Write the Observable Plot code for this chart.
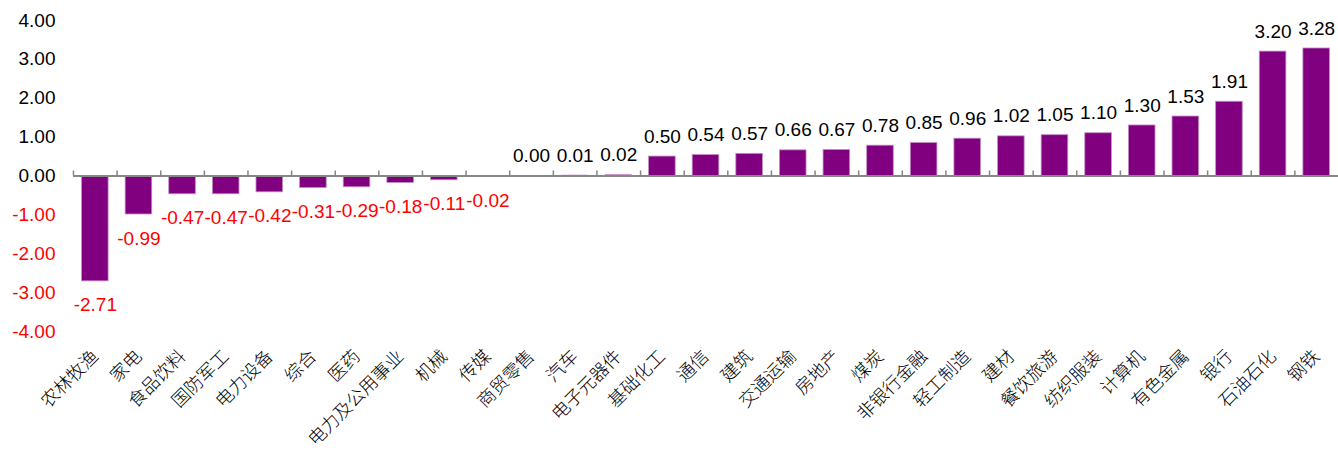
<!DOCTYPE html>
<html>
<head>
<meta charset="utf-8">
<script src="https://cdn.jsdelivr.net/npm/d3@7"></script>
<script src="https://cdn.jsdelivr.net/npm/@observablehq/plot@0.6"></script>
<style>
  html, body { margin: 0; padding: 0; background: #fff; }
  #chart { width: 1338px; height: 452px; overflow: hidden; }
</style>
</head>
<body>
<div id="chart"></div>
<script>
const categories = ["农林牧渔","家电","食品饮料","国防军工","电力设备","综合","医药","电力及公用事业","机械","传媒","商贸零售","汽车","电子元器件","基础化工","通信","建筑","交通运输","房地产","煤炭","非银行金融","轻工制造","建材","餐饮旅游","纺织服装","计算机","有色金属","银行","石油石化","钢铁"];
const values = [-2.71,-0.99,-0.47,-0.47,-0.42,-0.31,-0.29,-0.18,-0.11,-0.02,0.00,0.01,0.02,0.50,0.54,0.57,0.66,0.67,0.78,0.85,0.96,1.02,1.05,1.10,1.30,1.53,1.91,3.20,3.28];
const posTicks = [0, 1, 2, 3, 4];
const negTicks = [-1, -2, -3, -4];

const data = categories.map((c, i) => ({cat: c, v: values[i]}));
const W = 1338, H = 452, mL = 73, mR = 0, mT = 20, mB = 121;
const bw = (W - mL - mR) / categories.length;
const inset = bw * 0.195;
const numFont = "Liberation Sans, Arial, sans-serif";
const cjkFont = "'Noto Sans CJK SC', sans-serif";

const chart = Plot.plot({
  width: W, height: H,
  marginLeft: mL, marginRight: mR, marginTop: mT, marginBottom: mB,
  x: {domain: categories, padding: 0, round: false, label: null},
  y: {domain: [-4, 4], label: null},
  marks: [
    Plot.barY(data, {x: "cat", y: "v", insetLeft: inset, insetRight: inset, fill: "#800080", stroke: "#c58ec5", strokeWidth: 0.8}),
    Plot.ruleY([0], {stroke: "#868686", strokeWidth: 2}),
    Plot.ruleX(categories, {x: d => d, dx: -bw / 2, y1: 0, y2: 0.13, stroke: "#868686", strokeWidth: 1.5}),
    Plot.axisX({anchor: "bottom", tickSize: 0, tickPadding: 22, tickRotate: -45, fontSize: 18, fontFamily: cjkFont, fontWeight: 300, fill: "#000", label: null}),
    Plot.axisY(posTicks, {tickSize: 0, tickPadding: 18, tickFormat: d => d.toFixed(2), fontSize: 19, fontFamily: numFont, fill: "#000", label: null}),
    Plot.axisY(negTicks, {tickSize: 0, tickPadding: 18, tickFormat: d => d.toFixed(2), fontSize: 19, fontFamily: numFont, fill: "#ff0000", label: null}),
    Plot.text(data.filter(d => d.v >= 0), {x: "cat", y: "v", text: d => d.v.toFixed(2), dy: -20, fontSize: 19, fontFamily: numFont, fill: "#000"}),
    Plot.text(data.filter(d => d.v < 0), {x: "cat", y: "v", text: d => d.v.toFixed(2), dy: 24, fontSize: 19, fontFamily: numFont, fill: "#ff0000"})
  ]
});
document.getElementById("chart").appendChild(chart);
</script>
</body>
</html>
